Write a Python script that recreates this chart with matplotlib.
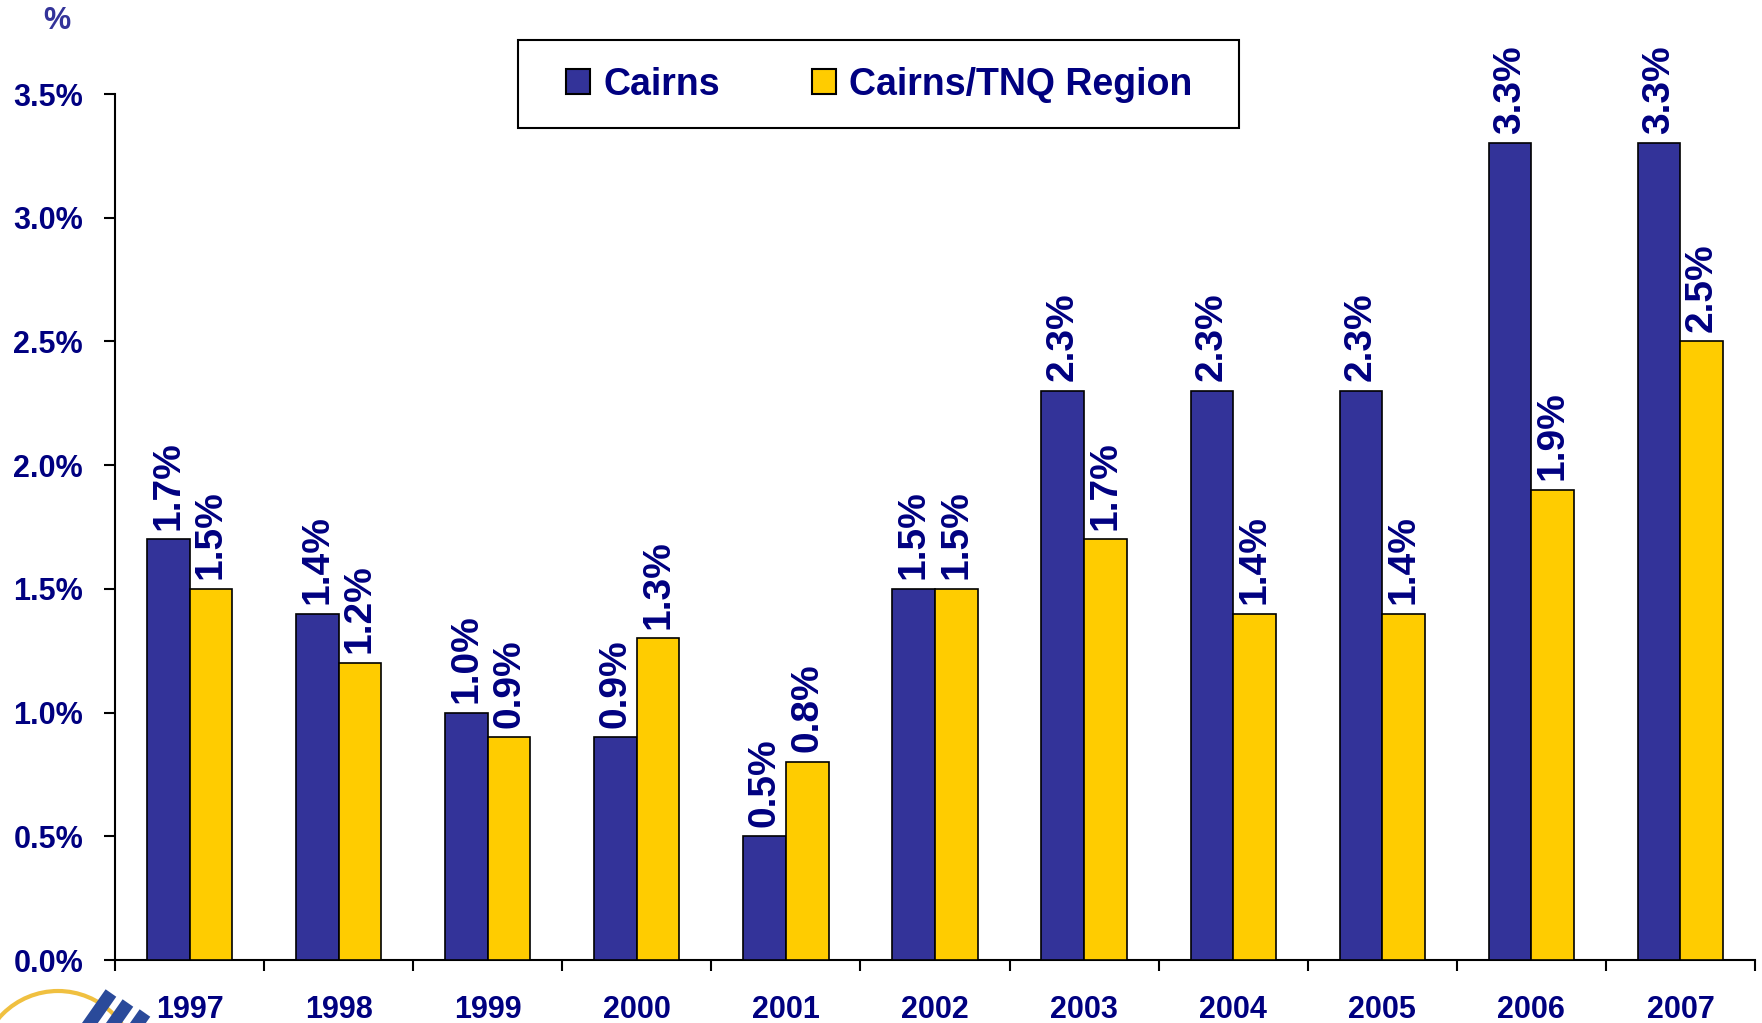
import numpy as np
import matplotlib
matplotlib.use("Agg")
import matplotlib.pyplot as plt
from matplotlib import font_manager
from matplotlib.patches import Arc, Rectangle, Patch
from matplotlib.ticker import FixedLocator, FuncFormatter
from matplotlib.transforms import IdentityTransform

# ===============================
# Data
# ===============================
years = ["1997", "1998", "1999", "2000", "2001", "2002",
         "2003", "2004", "2005", "2006", "2007"]
cairns = [1.7, 1.4, 1.0, 0.9, 0.5, 1.5, 2.3, 2.3, 2.3, 3.3, 3.3]
cairns_tnq = [1.5, 1.2, 0.9, 1.3, 0.8, 1.5, 1.7, 1.4, 1.4, 1.9, 2.5]
series_names = ["Cairns", "Cairns/TNQ Region"]
y_ticks = [0.0, 0.5, 1.0, 1.5, 2.0, 2.5, 3.0, 3.5]

BLUE = "#333399"
YELLOW = "#FFCC00"
NAVY = "#000080"

names = {f.name for f in font_manager.fontManager.ttflist}
MAIN = "Liberation Sans" if "Liberation Sans" in names else "DejaVu Sans"

# ===============================
# Figure
# ===============================
W, H = 1762, 1023
fig = plt.figure(figsize=(W / 100, H / 100), dpi=100)
ax = fig.add_axes([115 / W, 63 / H, (1755 - 115) / W, (960 - 94) / H])

x = np.arange(len(years))
bw = 0.286
b1 = ax.bar(x - bw / 2, cairns, bw, color=BLUE, edgecolor="black", linewidth=1.2, zorder=3)
b2 = ax.bar(x + bw / 2, cairns_tnq, bw, color=YELLOW, edgecolor="black", linewidth=1.2, zorder=3)

# value labels on top of each bar
for bars, vals in ((b1, cairns), (b2, cairns_tnq)):
    for rect, v in zip(bars, vals):
        ax.annotate(f"{v:.1f}%", (rect.get_x() + rect.get_width() / 2, v),
                    xytext=(0, 7), textcoords="offset points",
                    rotation=90, ha="center", va="bottom",
                    fontsize=28, fontweight="bold", color=NAVY,
                    family=MAIN, annotation_clip=False)

# axes
ax.set_xlim(-0.5, len(years) - 0.5)
ax.set_ylim(0, 3.5)
ax.set_yticks(y_ticks)
ax.yaxis.set_major_formatter(FuncFormatter(lambda v, p: f"{v:.1f}%"))
ax.set_xticks(x)
ax.set_xticklabels(years)
ax.xaxis.set_minor_locator(FixedLocator(np.arange(len(years) + 1) - 0.5))
ax.tick_params(axis="x", which="major", length=0, pad=25)
ax.tick_params(axis="x", which="minor", length=8, width=1.5, direction="out")
ax.tick_params(axis="y", length=8, width=1.5, direction="out", pad=15)
for lab in ax.get_xticklabels() + ax.get_yticklabels():
    lab.set_fontsize(22)
    lab.set_fontweight("bold")
    lab.set_color(NAVY)
    lab.set_family(MAIN)

for s in ("top", "right"):
    ax.spines[s].set_visible(False)
ax.spines["left"].set_linewidth(1.5)
ax.spines["bottom"].set_linewidth(1.5)

# "%" unit label
fig.text(57 / W, 1 - 21 / H, "%", fontsize=22, fontweight="bold", color=BLUE,
         family=MAIN, ha="center", va="center")

# ===============================
# Legend (frame drawn separately)
# ===============================
handles = [Patch(facecolor=BLUE, edgecolor="black", linewidth=1.5),
           Patch(facecolor=YELLOW, edgecolor="black", linewidth=1.5)]
leg = fig.legend(handles, series_names, loc="center",
                 bbox_to_anchor=(879 / W, 1 - 85 / H), ncol=2,
                 frameon=False, handlelength=0.64, handleheight=0.64,
                 handletextpad=0.35, columnspacing=2.45, borderpad=0,
                 prop={"family": MAIN, "weight": "bold", "size": 27})
for t in leg.get_texts():
    t.set_color(NAVY)
frame = Rectangle((518 / W, 1 - 128 / H), (1239 - 518) / W, (128 - 40) / H,
                  transform=fig.transFigure, facecolor="none",
                  edgecolor="black", linewidth=1.5)
fig.add_artist(frame)

# partial logo in the bottom-left corner (pixel coordinates)
px = IdentityTransform()
arc = Arc((58, -46), 156, 156, theta1=0, theta2=180,
          transform=px, color="#F0C040", linewidth=3)
fig.add_artist(arc)
for i in range(3):
    r = Rectangle((54 + i * 17, -40 - i * 10), 13, 90, angle=-35,
                  transform=px, facecolor="#2A4A9A", edgecolor="none")
    fig.add_artist(r)

fig.savefig("out.png", dpi=100)
